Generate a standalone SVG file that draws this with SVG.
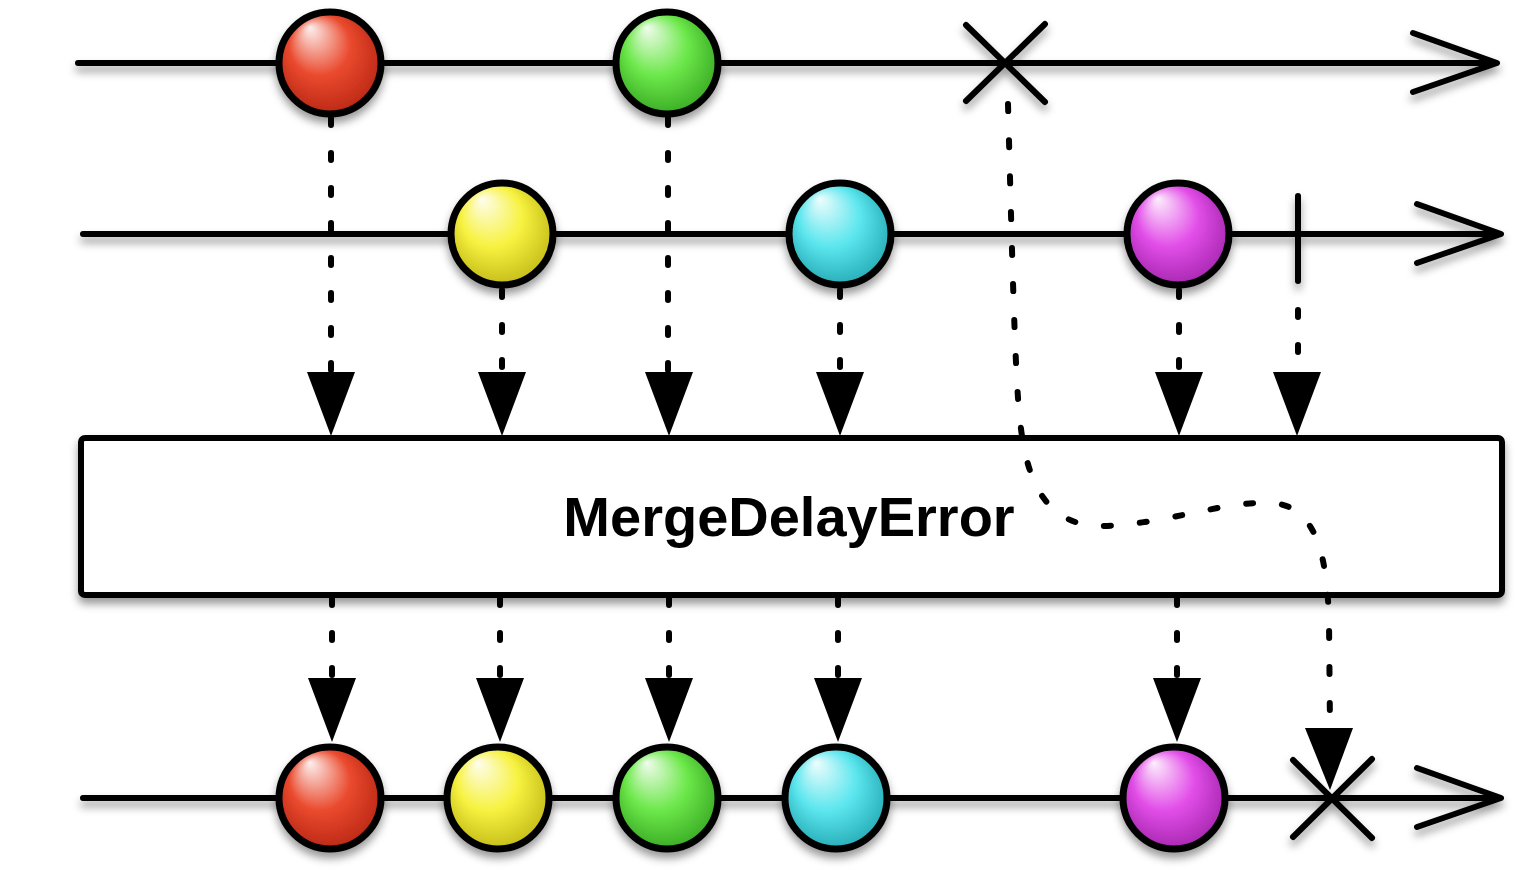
<svg xmlns="http://www.w3.org/2000/svg" width="1540" height="870" viewBox="0 0 1540 870">
<defs>
<filter id="sh" x="-20%" y="-20%" width="140%" height="160%">
<feDropShadow dx="0" dy="6" stdDeviation="4" flood-color="#000" flood-opacity="0.4"/>
</filter>
<radialGradient id="gRed" cx="0.5" cy="0.5" r="0.6" fx="0.3" fy="0.15">
<stop offset="0" stop-color="#fdf0ee"/><stop offset="0.5" stop-color="#ea4a2e"/><stop offset="1" stop-color="#b0200f"/>
</radialGradient>
<radialGradient id="gGreen" cx="0.5" cy="0.5" r="0.6" fx="0.3" fy="0.15">
<stop offset="0" stop-color="#f0fcec"/><stop offset="0.5" stop-color="#6ce84a"/><stop offset="1" stop-color="#2f9e1c"/>
</radialGradient>
<radialGradient id="gYellow" cx="0.5" cy="0.5" r="0.6" fx="0.3" fy="0.15">
<stop offset="0" stop-color="#fefdee"/><stop offset="0.5" stop-color="#f7f240"/><stop offset="1" stop-color="#b9b010"/>
</radialGradient>
<radialGradient id="gCyan" cx="0.5" cy="0.5" r="0.6" fx="0.3" fy="0.15">
<stop offset="0" stop-color="#eefdfd"/><stop offset="0.5" stop-color="#5ce6ee"/><stop offset="1" stop-color="#1a9faa"/>
</radialGradient>
<radialGradient id="gMag" cx="0.5" cy="0.5" r="0.6" fx="0.3" fy="0.15">
<stop offset="0" stop-color="#fdeefd"/><stop offset="0.5" stop-color="#e24ee8"/><stop offset="1" stop-color="#9a1ea4"/>
</radialGradient>
<path id="ah" d="M-24,0 L24,0 L0,64 Z" fill="#000"/>
</defs>
<style>
.line{stroke:#000;stroke-width:6;fill:none;stroke-linecap:round;stroke-linejoin:round}
.dash{stroke:#000;stroke-width:6;fill:none;stroke-linecap:round;stroke-dasharray:7 28}
.ball{stroke:#000;stroke-width:7}
.lbl{font-family:"Liberation Sans",Arial,sans-serif;font-weight:bold;font-size:56px;fill:#000}
</style>
<rect width="1540" height="870" fill="#fff"/>

<g id="timelines" filter="url(#sh)">
<path class="line" d="M78,63 L1494,63 M1413,33 L1497,63 L1413,92"/>
<path class="line" d="M83,234 L1499,234 M1417,204 L1501,234 L1417,263"/>
<path class="line" d="M83,798 L1499,798 M1417,768 L1501,798 L1417,827"/>
<path class="line" d="M966,25 L1045,102 M1045,24 L966,101"/>
<path class="line" d="M1298,196 L1298,281"/>
<path class="line" d="M1293,760 L1372,838 M1372,759 L1293,837"/>
</g>

<g id="box" filter="url(#sh)">
<rect x="81" y="438" width="1421" height="157" rx="4" fill="#fff" stroke="#000" stroke-width="6"/>
<text class="lbl" x="789" y="536" text-anchor="middle">MergeDelayError</text>
</g>

<g id="connectors">
<path class="dash" d="M331,118 L331,372"/>
<path class="dash" d="M668,118 L668,372"/>
<path class="dash" d="M502,290 L502,372"/>
<path class="dash" d="M840,290 L840,372"/>
<path class="dash" d="M1179,290 L1179,372"/>
<path class="dash" d="M1298,310 L1298,372"/>
<use href="#ah" x="331" y="372"/>
<use href="#ah" x="502" y="372"/>
<use href="#ah" x="669" y="372"/>
<use href="#ah" x="840" y="372"/>
<use href="#ah" x="1179" y="372"/>
<use href="#ah" x="1297" y="372"/>
<path class="dash" d="M332,598 L332,678"/>
<path class="dash" d="M500,598 L500,678"/>
<path class="dash" d="M669,598 L669,678"/>
<path class="dash" d="M838,598 L838,678"/>
<path class="dash" d="M1177,598 L1177,678"/>
<use href="#ah" x="332" y="678"/>
<use href="#ah" x="500" y="678"/>
<use href="#ah" x="669" y="678"/>
<use href="#ah" x="838" y="678"/>
<use href="#ah" x="1177" y="678"/>
<path class="dash" style="stroke-dasharray:7 29" d="M1008,104 C1012,250 1015,380 1020,420 C1026,480 1045,524 1098,526 C1160,526 1225,500 1272,503 C1318,506 1327,560 1329,620 L1330,728"/>
<path d="M1305,728 L1353,728 L1330,790 Z" fill="#000"/>
</g>

<g id="balls" filter="url(#sh)">
<circle id="top-red" class="ball" cx="330" cy="63" r="51" fill="url(#gRed)"/>
<circle id="top-green" class="ball" cx="667" cy="63" r="51" fill="url(#gGreen)"/>
<circle id="mid-yellow" class="ball" cx="502" cy="234" r="51" fill="url(#gYellow)"/>
<circle id="mid-cyan" class="ball" cx="840" cy="234" r="51" fill="url(#gCyan)"/>
<circle id="mid-magenta" class="ball" cx="1178" cy="234" r="51" fill="url(#gMag)"/>
<circle id="out-red" class="ball" cx="330" cy="798" r="51" fill="url(#gRed)"/>
<circle id="out-yellow" class="ball" cx="498" cy="798" r="51" fill="url(#gYellow)"/>
<circle id="out-green" class="ball" cx="667" cy="798" r="51" fill="url(#gGreen)"/>
<circle id="out-cyan" class="ball" cx="836" cy="798" r="51" fill="url(#gCyan)"/>
<circle id="out-magenta" class="ball" cx="1174" cy="798" r="51" fill="url(#gMag)"/>
</g>
</svg>
